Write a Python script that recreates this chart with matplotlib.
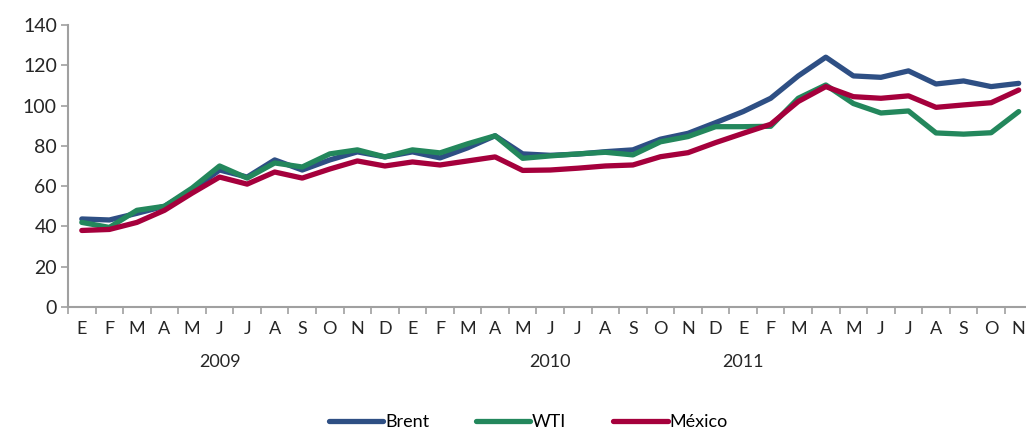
import matplotlib
matplotlib.use("Agg")
from matplotlib import pyplot as plt
from matplotlib import transforms
import numpy as np

# Monthly prices, Jan 2009 - Nov 2011
months = ['E', 'F', 'M', 'A', 'M', 'J', 'J', 'A', 'S', 'O', 'N', 'D',
          'E', 'F', 'M', 'A', 'M', 'J', 'J', 'A', 'S', 'O', 'N', 'D',
          'E', 'F', 'M', 'A', 'M', 'J', 'J', 'A', 'S', 'O', 'N']
years = ['2009', '2010', '2011']
year_pos = [5, 17, 24]

brent = [43.7, 43.2, 46.5, 50, 58, 68, 64.5, 73, 68, 73, 77, 74.5,
         77, 74, 79, 85, 76, 75.3, 75.9, 77.1, 78, 83.3, 86.2, 91.5,
         97, 103.6, 114.7, 124, 114.7, 114, 117.2, 110.7, 112.2, 109.4, 111]
wti = [42, 39.5, 48, 50, 59, 70, 64, 71.5, 69.5, 76, 78, 74.5,
       78, 76.5, 81, 85, 73.8, 75, 76, 76.8, 75.5, 82, 84.6, 89.5,
       89.5, 89.7, 103.6, 110.2, 101, 96.3, 97.3, 86.4, 85.8, 86.5, 97]
mexico = [38, 38.5, 42, 48, 56.5, 64.5, 61, 67, 64, 68.5, 72.5, 70,
          72, 70.5, 72.5, 74.5, 67.8, 68, 68.9, 70, 70.5, 74.6, 76.6, 81.6,
          86.2, 90.7, 102, 109.4, 104.4, 103.6, 104.8, 99.1, 100.3, 101.4, 107.7]

plt.rcParams['font.family'] = ['Lato', 'DejaVu Sans']

fig = plt.figure(figsize=(10.26, 4.3), dpi=100)
ax = fig.add_axes([0.0663, 0.286, 0.94, 0.656])

x = np.arange(len(months))
line_kw = dict(lw=3.8, solid_joinstyle='round', solid_capstyle='round')
ax.plot(x, brent, color='#2E4F84', label='Brent', **line_kw)
ax.plot(x, wti, color='#23875C', label='WTI', **line_kw)
ax.plot(x, mexico, color='#A5003C', label='México', **line_kw)

ax.set_ylim(0, 140)
ax.set_yticks(range(0, 141, 20))
ax.set_xlim(-0.5, len(months) - 0.5)

# boundary ticks, labels at month centers
ax.set_xticks(np.arange(-0.5, len(months), 1.0))
ax.set_xticklabels([])
ax.set_xticks(x, minor=True)
ax.set_xticklabels(months, minor=True)
ax.tick_params(axis='x', which='minor', length=0, pad=10, labelsize=13, colors='#262626')
ax.tick_params(axis='x', which='major', length=5, width=1.2, color='#A0A0A0')
ax.tick_params(axis='y', length=5, width=1.2, color='#A0A0A0', labelsize=14, labelcolor='#262626', pad=3)

for s in ['top', 'right']:
    ax.spines[s].set_visible(False)
for s in ['left', 'bottom']:
    ax.spines[s].set_color('#A0A0A0')
    ax.spines[s].set_linewidth(1.5)

trans = transforms.blended_transform_factory(ax.transData, fig.transFigure)
for yr, pos in zip(years, year_pos):
    ax.text(pos, 1 - 362 / 430, yr, transform=trans, ha='center', va='center',
            fontsize=13, color='#262626')

fig.legend(loc='center', bbox_to_anchor=(0.515, 0.018), ncol=3, frameon=False,
           fontsize=13, handlelength=3.0, columnspacing=2.6, handletextpad=0.1)

fig.savefig('out.png', dpi=100)
